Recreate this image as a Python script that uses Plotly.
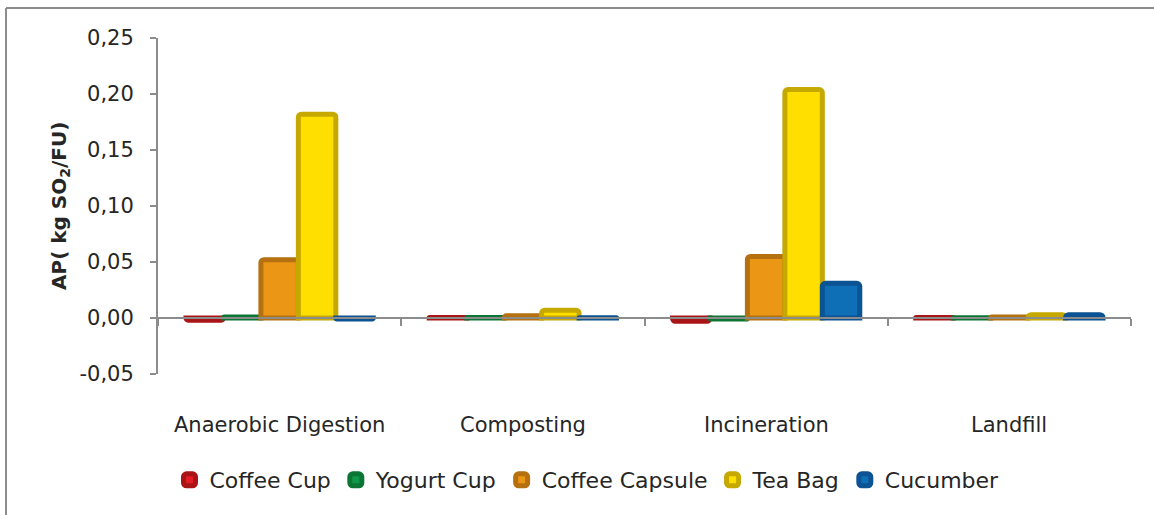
import plotly.graph_objects as go

# Treatment scenarios (x categories)
categories = ["Anaerobic Digestion", "Composting", "Incineration", "Landfill"]

# Acidification potential per functional unit (kg SO2/FU)
coffee_cup = [-0.002, 0.0005, -0.003, 0.0005]
yogurt_cup = [0.001, 0.0005, -0.001, 0.0003]
coffee_capsule = [0.052, 0.002, 0.055, 0.001]
tea_bag = [0.182, 0.007, 0.204, 0.003]
cucumber = [-0.001, 0.0002, 0.031, 0.003]

series_names = ["Coffee Cup", "Yogurt Cup", "Coffee Capsule", "Tea Bag", "Cucumber"]
series_values = [coffee_cup, yogurt_cup, coffee_capsule, tea_bag, cucumber]
fill_colors = ["#E31D24", "#10984A", "#EC9615", "#FFDF00", "#0E6FB6"]
edge_colors = ["#A91517", "#0B7534", "#B5700F", "#C6A900", "#0B5393"]

y_ticks = [-0.05, 0.0, 0.05, 0.10, 0.15, 0.20, 0.25]
# comma decimal labels with a plain hyphen for negatives
y_tick_text = [f"{v:.2f}".replace(".", ",") for v in y_ticks]

FONT = "DejaVu Sans"
FS = 21
AXIS_GREY = "#8C8C8C"
TEXT = "#262626"

# pixel layout of the plotting area
W, H = 1154, 515
L, R, T, B = 158, 23, 38, 141
PW, PH = W - L - R, H - T - B


def px_x(p):
    return (p - L) / PW


def px_y(p):
    return (H - B - p) / PH


fig = go.Figure()
for name, vals, fc, ec in zip(series_names, series_values, fill_colors, edge_colors):
    fig.add_trace(go.Bar(
        x=categories, y=vals, name=name,
        marker=dict(color=fc, line=dict(color=ec, width=5), cornerradius=3),
    ))

# zero line position inside the y domain
y0, y1 = y_ticks[0], y_ticks[-1]
zero_pos = (0 - y0) / (y1 - y0)

fig.update_layout(
    width=W, height=H,
    margin=dict(l=L, r=R, t=T, b=B),
    paper_bgcolor="white", plot_bgcolor="white",
    barmode="group", bargap=0.23, bargroupgap=0.0,
    separators=",.",
    font=dict(family=FONT, size=FS, color=TEXT),
    showlegend=True,
    legend=dict(
        orientation="h", x=px_x(587), y=px_y(480),
        xanchor="center", yanchor="middle",
        font=dict(family=FONT, size=FS + 1, color=TEXT),
        itemwidth=30, traceorder="normal",
    ),
    xaxis=dict(
        anchor="free", position=zero_pos,
        showline=True, linecolor=AXIS_GREY, linewidth=2,
        ticks="outside", tickson="boundaries", ticklen=7, tickcolor=AXIS_GREY, tickwidth=2,
        showticklabels=False, showgrid=False, zeroline=False,
    ),
    yaxis=dict(
        range=[y0, y1], tickvals=y_ticks, ticktext=y_tick_text,
        showline=True, linecolor=AXIS_GREY, linewidth=2,
        ticks="outside", ticklen=6, tickcolor=AXIS_GREY, tickwidth=2,
        ticklabelstandoff=12,
        showgrid=False, zeroline=False,
        tickfont=dict(family=FONT, size=FS, color=TEXT),
    ),
)

# category labels below the plotting area
for c in categories:
    fig.add_annotation(
        x=c, y=px_y(425), xref="x", yref="paper", text=c, showarrow=False,
        font=dict(family=FONT, size=FS, color=TEXT), yanchor="middle",
    )

# y axis title
fig.add_annotation(
    x=px_x(60), y=0.5, xref="paper", yref="paper",
    xanchor="center", yanchor="middle",
    text="<b>AP( kg SO<sub>2</sub>/FU)</b>", textangle=-90, showarrow=False,
    font=dict(family=FONT, size=20, color=TEXT),
)

# chart frame (top and left edges)
fig.add_shape(type="line", xref="paper", yref="paper",
              x0=px_x(6), x1=px_x(1160), y0=px_y(8), y1=px_y(8),
              line=dict(color=AXIS_GREY, width=2))
fig.add_shape(type="line", xref="paper", yref="paper",
              x0=px_x(6), x1=px_x(6), y0=px_y(8), y1=px_y(520),
              line=dict(color=AXIS_GREY, width=2))

fig.write_html("out.html")
